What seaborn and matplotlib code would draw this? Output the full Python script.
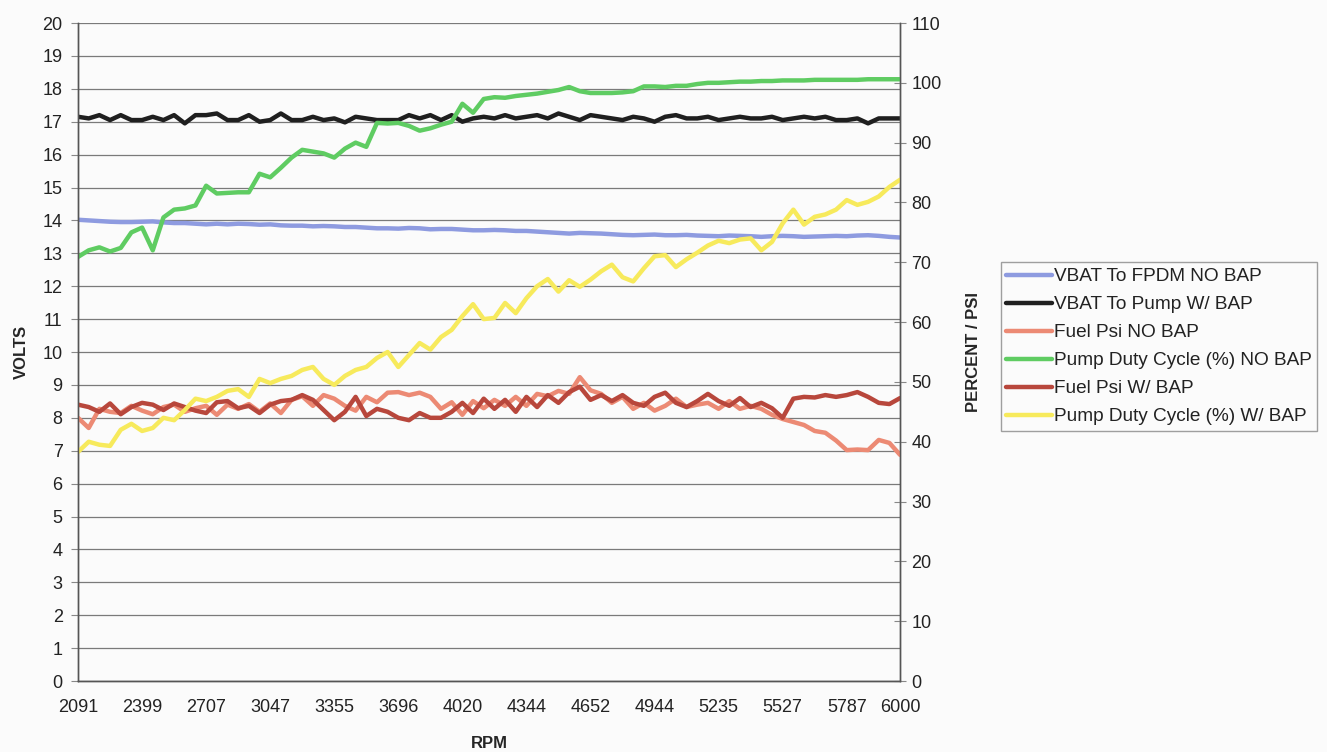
import numpy as np
import pandas as pd
import matplotlib
matplotlib.use("Agg")
import matplotlib.pyplot as plt
import seaborn as sns

# tick labels of the RPM category axis
rpm_labels = ["2091", "2399", "2707", "3047", "3355", "3696", "4020",
              "4344", "4652", "4944", "5235", "5527", "5787", "6000"]

# volts (left axis)
vbat_fpdm_no_bap = [
    14.02, 14.00, 13.98, 13.96, 13.95, 13.95,
    13.96, 13.97, 13.94, 13.92, 13.92, 13.90,
    13.88, 13.90, 13.88, 13.90, 13.89, 13.87,
    13.88, 13.85, 13.84, 13.84, 13.82, 13.83,
    13.82, 13.80, 13.80, 13.78, 13.76, 13.76,
    13.75, 13.77, 13.76, 13.73, 13.74, 13.74,
    13.72, 13.70, 13.70, 13.71, 13.70, 13.68,
    13.68, 13.66, 13.64, 13.62, 13.60, 13.62,
    13.61, 13.60, 13.58, 13.56, 13.55, 13.56,
    13.57, 13.55, 13.55, 13.56, 13.54, 13.53,
    13.52, 13.54, 13.53, 13.52, 13.50, 13.52,
    13.53, 13.52, 13.50, 13.51, 13.52, 13.53,
    13.52, 13.54, 13.55, 13.53, 13.50, 13.48]

vbat_pump_w_bap = [
    17.15, 17.10, 17.20, 17.05, 17.20, 17.05,
    17.05, 17.15, 17.05, 17.20, 16.95, 17.20,
    17.20, 17.25, 17.05, 17.05, 17.20, 17.00,
    17.05, 17.25, 17.05, 17.05, 17.15, 17.05,
    17.10, 16.98, 17.15, 17.10, 17.05, 17.05,
    17.05, 17.20, 17.10, 17.20, 17.05, 17.20,
    17.00, 17.10, 17.15, 17.10, 17.20, 17.10,
    17.15, 17.20, 17.10, 17.25, 17.15, 17.05,
    17.20, 17.15, 17.10, 17.05, 17.15, 17.10,
    17.00, 17.15, 17.20, 17.10, 17.10, 17.15,
    17.05, 17.10, 17.15, 17.10, 17.10, 17.15,
    17.05, 17.10, 17.15, 17.10, 17.15, 17.05,
    17.05, 17.10, 16.95, 17.10, 17.10, 17.10]

# percent / psi (right axis)
fuel_psi_no_bap = [
    44.0, 42.3, 45.5, 45.0, 44.8, 46.0,
    45.2, 44.6, 45.8, 46.2, 45.0, 45.6,
    46.0, 44.5, 46.2, 45.5, 46.3, 45.0,
    46.4, 44.8, 47.0, 47.6, 46.0, 47.8,
    47.2, 46.0, 45.2, 47.5, 46.6, 48.2,
    48.3, 47.8, 48.2, 47.5, 45.5, 46.6,
    44.5, 46.8, 45.6, 47.0, 46.0, 47.5,
    46.0, 48.0, 47.6, 48.5, 48.0, 50.8,
    48.6, 48.0, 46.5, 47.5, 45.5, 46.5,
    45.2, 46.0, 47.2, 45.8, 46.2, 46.5,
    45.5, 46.8, 45.5, 46.0, 45.5, 44.5,
    43.8, 43.3, 42.8, 41.8, 41.5, 40.2,
    38.6, 38.7, 38.6, 40.3, 39.8, 37.8]

duty_no_bap = [
    70.9, 72.0, 72.5, 71.8, 72.4, 75.0,
    75.8, 72.0, 77.5, 78.8, 79.0, 79.5,
    82.8, 81.5, 81.6, 81.7, 81.7, 84.8,
    84.2, 85.8, 87.5, 88.8, 88.5, 88.2,
    87.5, 89.0, 90.0, 89.3, 93.3, 93.2,
    93.3, 92.8, 92.0, 92.4, 93.0, 93.5,
    96.5, 95.0, 97.3, 97.6, 97.5, 97.8,
    98.0, 98.2, 98.5, 98.8, 99.3, 98.6,
    98.3, 98.3, 98.3, 98.4, 98.6, 99.4,
    99.4, 99.3, 99.5, 99.5, 99.8, 100.0,
    100.0, 100.1, 100.2, 100.2, 100.3, 100.3,
    100.4, 100.4, 100.4, 100.5, 100.5, 100.5,
    100.5, 100.5, 100.6, 100.6, 100.6, 100.6]

fuel_psi_w_bap = [
    46.2, 45.8, 45.0, 46.4, 44.6, 45.8,
    46.5, 46.2, 45.3, 46.4, 45.8, 45.2,
    44.8, 46.6, 46.8, 45.6, 46.0, 44.8,
    46.2, 46.8, 47.0, 47.8, 47.0, 45.3,
    43.6, 45.0, 47.5, 44.3, 45.5, 45.0,
    44.0, 43.6, 44.8, 44.0, 44.0, 45.0,
    46.5, 44.8, 47.2, 45.5, 47.0, 45.0,
    47.5, 45.8, 47.8, 46.5, 48.3, 49.2,
    47.0, 47.8, 46.8, 47.8, 46.5, 46.0,
    47.5, 48.2, 46.5, 45.8, 46.8, 48.0,
    46.8, 46.0, 47.3, 45.8, 46.5, 45.6,
    44.0, 47.2, 47.5, 47.4, 47.8, 47.5,
    47.8, 48.3, 47.5, 46.5, 46.3, 47.3]

duty_w_bap = [
    38.3, 40.0, 39.5, 39.3, 42.0, 43.0,
    41.8, 42.3, 44.0, 43.6, 45.3, 47.2,
    46.8, 47.5, 48.5, 48.8, 47.5, 50.5,
    49.8, 50.5, 51.0, 52.0, 52.5, 50.5,
    49.5, 51.0, 52.0, 52.5, 54.0, 55.0,
    52.5, 54.5, 56.5, 55.4, 57.5, 58.7,
    61.0, 63.0, 60.5, 60.7, 63.2, 61.5,
    64.0, 66.0, 67.2, 65.1, 67.0, 65.9,
    67.1, 68.5, 69.6, 67.5, 66.8, 69.0,
    71.0, 71.2, 69.2, 70.5, 71.6, 72.8,
    73.6, 73.2, 73.8, 74.0, 72.0, 73.4,
    76.5, 78.8, 76.3, 77.6, 78.0, 78.8,
    80.4, 79.6, 80.1, 81.0, 82.6, 83.8]

n = len(vbat_fpdm_no_bap)
sample = np.arange(n)

left_series = [
    ("VBAT To FPDM NO BAP", vbat_fpdm_no_bap, "#8e9be0"),
    ("VBAT To Pump W/ BAP", vbat_pump_w_bap, "#1f1f1f"),
]
right_series = [
    ("Fuel Psi NO BAP", fuel_psi_no_bap, "#ec8a74"),
    ("Pump Duty Cycle (%) NO BAP", duty_no_bap, "#5fcc62"),
    ("Fuel Psi W/ BAP", fuel_psi_w_bap, "#b8473c"),
    ("Pump Duty Cycle (%) W/ BAP", duty_w_bap, "#f7ea5c"),
]
legend_order = ["VBAT To FPDM NO BAP", "VBAT To Pump W/ BAP", "Fuel Psi NO BAP",
                "Pump Duty Cycle (%) NO BAP", "Fuel Psi W/ BAP",
                "Pump Duty Cycle (%) W/ BAP"]

sns.set_style("white")
plt.rcParams['font.family'] = ['Liberation Sans', 'DejaVu Sans']

fig = plt.figure(figsize=(13.27, 7.52), dpi=100)
fig.patch.set_facecolor("#fbfbfb")
ax = fig.add_axes([0.0588, 0.0944, 0.6195, 0.875])
ax.set_facecolor("#fbfbfb")
ax2 = ax.twinx()

handles = {}
for name, vals, col in left_series:
    df = pd.DataFrame({"sample": sample, "val": vals})
    sns.lineplot(data=df, x="sample", y="val", ax=ax, color=col, lw=3.2, legend=False)
    handles[name] = ax.lines[-1]
for name, vals, col in right_series:
    df = pd.DataFrame({"sample": sample, "val": vals})
    sns.lineplot(data=df, x="sample", y="val", ax=ax2, color=col, lw=3.2, legend=False)
    handles[name] = ax2.lines[-1]

ax.set_xlim(0, n - 1)
ax.set_ylim(0, 20)
ax2.set_ylim(0, 110)
ax.set_yticks(range(0, 21))
ax2.set_yticks(range(0, 111, 10))
ax.yaxis.grid(True, color="#7a7a7a", lw=0.9)
ax.set_axisbelow(True)

tick_pos = list(range(0, n - 1, 6)) + [n - 1]
ax.set_xticks(tick_pos)
ax.set_xticklabels(rpm_labels)
ax.set_xticks(range(3, n - 1, 6), minor=True)

for a in (ax, ax2):
    a.spines["top"].set_visible(False)
    for s in ("left", "right", "bottom"):
        a.spines[s].set_color("#555555")
        a.spines[s].set_linewidth(1.0)

ax.tick_params(axis="x", which="both", direction="out", length=5, color="#888888",
               labelsize=13, labelcolor="#222222", pad=8)
ax.tick_params(axis="y", direction="out", length=5, color="#888888",
               labelsize=13, labelcolor="#222222", pad=6)
ax2.tick_params(axis="y", direction="inout", length=8, color="#888888",
                labelsize=13, labelcolor="#222222", pad=4)

ax.set_xlabel("RPM", fontsize=12, fontweight="bold", labelpad=14)
ax.set_ylabel("VOLTS", fontsize=12, fontweight="bold", labelpad=10)
ax2.set_ylabel("PERCENT / PSI", fontsize=12, fontweight="bold", labelpad=18)

leg = fig.legend([handles[k] for k in legend_order], legend_order,
                 loc="upper left", bbox_to_anchor=(0.754, 0.651),
                 fontsize=13.7, frameon=True, fancybox=False, handlelength=2.4,
                 handletextpad=0.1, labelspacing=0.56, borderpad=0.3,
                 borderaxespad=0)
leg.get_frame().set_edgecolor("#888888")
leg.get_frame().set_linewidth(1.0)
leg.get_frame().set_facecolor("#fbfbfb")
for t in leg.get_texts():
    t.set_color("#222222")

fig.savefig("out.png", dpi=100, facecolor=fig.get_facecolor())
plt.close(fig)
